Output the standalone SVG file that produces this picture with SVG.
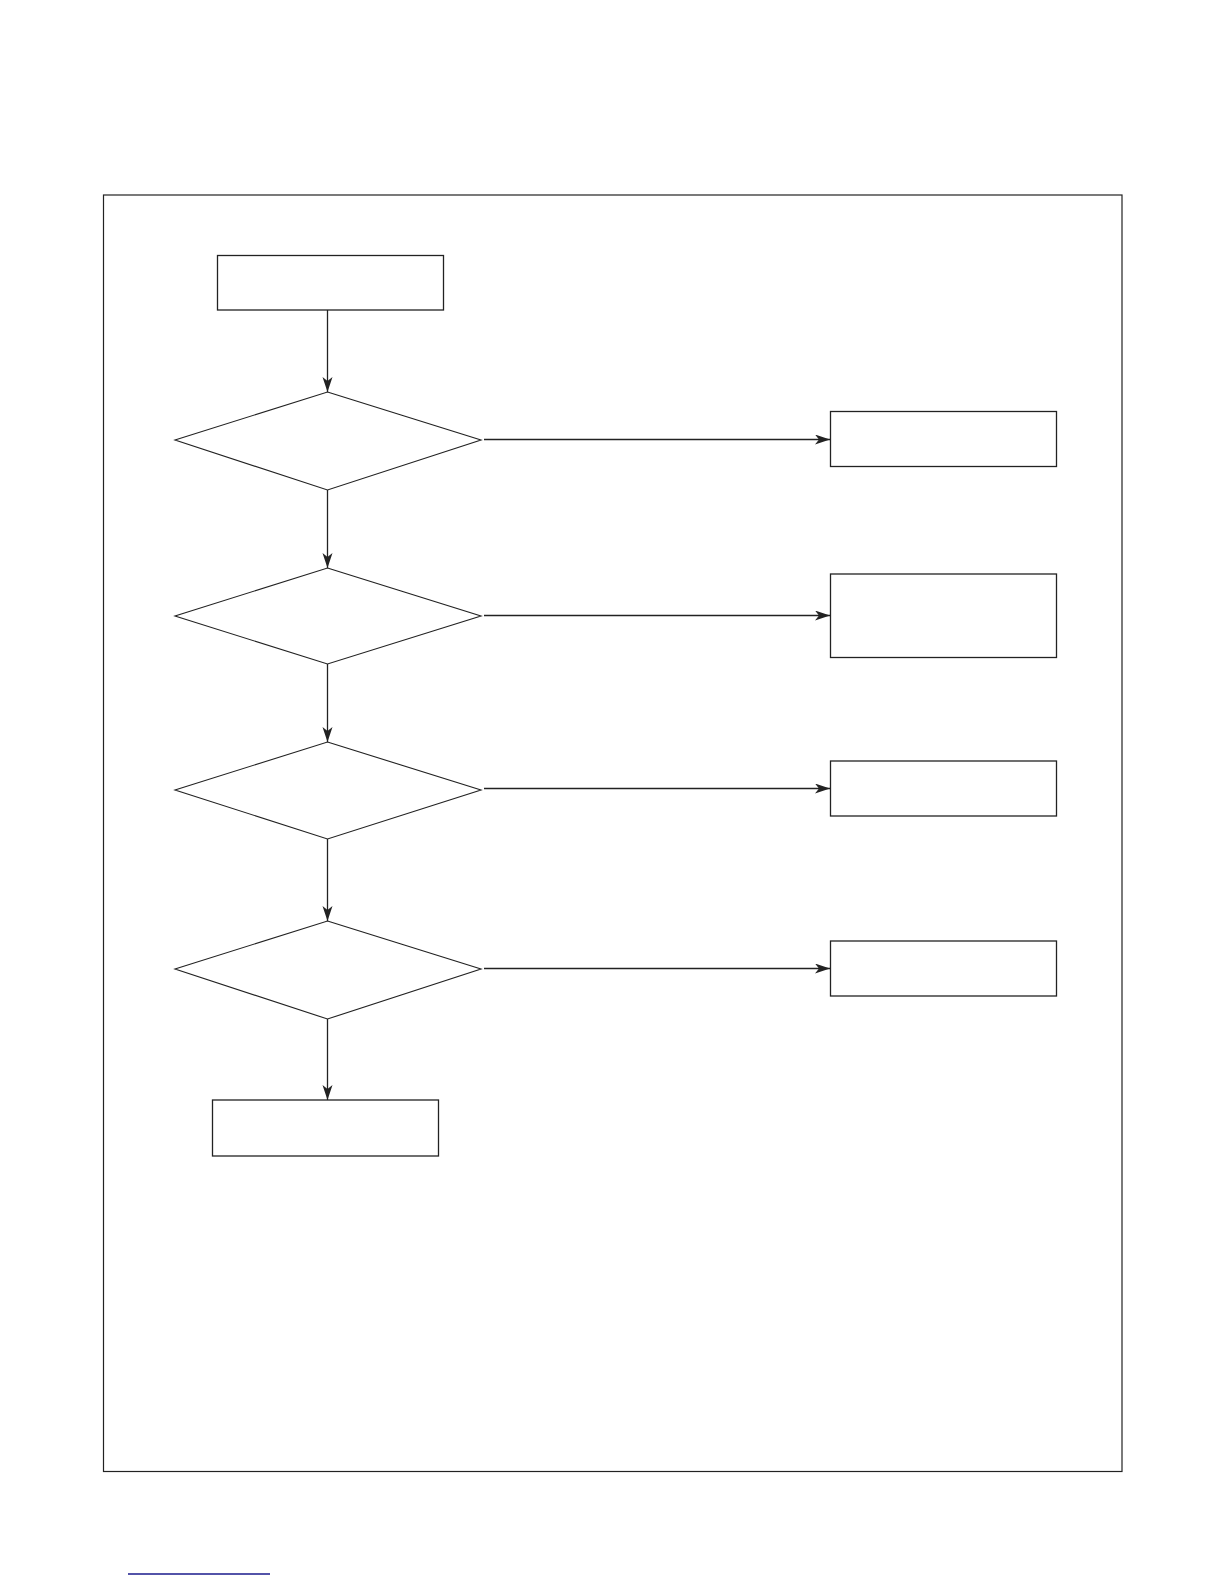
<svg xmlns="http://www.w3.org/2000/svg" width="1224" height="1584" viewBox="0 0 1224 1584">
  <style>
    .box { fill: #fff; stroke: #222; stroke-width: 1.3; }
    .dia { fill: #fff; stroke: #222; stroke-width: 1.1; }
    .edge { fill: none; stroke: #222; stroke-width: 1.3; marker-end: url(#arr); }
    .frame { fill: none; stroke: #222; stroke-width: 1.2; }
  </style>
  <defs>
    <marker id="arr" markerUnits="userSpaceOnUse" markerWidth="16" markerHeight="12" refX="15" refY="5" orient="auto">
      <path d="M0,0 L15,5 L0,10 L4,5 z" fill="#222"/>
    </marker>
  </defs>
  <rect width="1224" height="1584" fill="#fff"/>
  <rect class="frame" x="103.5" y="195" width="1018.5" height="1276.5"/>

  <g id="connectors">
    <line class="edge" x1="327.5" y1="310" x2="327.5" y2="392"/>
    <line class="edge" x1="327.5" y1="490" x2="327.5" y2="568"/>
    <line class="edge" x1="327.5" y1="664" x2="327.5" y2="742"/>
    <line class="edge" x1="327.5" y1="839" x2="327.5" y2="921"/>
    <line class="edge" x1="327.5" y1="1019" x2="327.5" y2="1100"/>
    <line class="edge" x1="484" y1="439.5" x2="830" y2="439.5"/>
    <line class="edge" x1="484" y1="615.5" x2="830" y2="615.5"/>
    <line class="edge" x1="484" y1="788.5" x2="830" y2="788.5"/>
    <line class="edge" x1="484" y1="968.5" x2="830" y2="968.5"/>
  </g>

  <g id="start"><rect class="box" x="217.5" y="255.5" width="226" height="54.5"/></g>
  <g id="decision1"><polygon class="dia" points="327.5,392 481,440 327.5,490 175,440"/></g>
  <g id="decision2"><polygon class="dia" points="327.5,568 481,616 327.5,664 175,616"/></g>
  <g id="decision3"><polygon class="dia" points="327.5,742 481,790 327.5,839 175,790"/></g>
  <g id="decision4"><polygon class="dia" points="327.5,921 481,969 327.5,1019 175,969"/></g>
  <g id="end"><rect class="box" x="212.5" y="1100" width="226" height="56"/></g>
  <g id="result1"><rect class="box" x="830.5" y="411.5" width="226" height="55"/></g>
  <g id="result2"><rect class="box" x="830.5" y="574" width="226" height="83.5"/></g>
  <g id="result3"><rect class="box" x="830.5" y="761" width="226" height="55"/></g>
  <g id="result4"><rect class="box" x="830.5" y="941" width="226" height="55"/></g>

  <line x1="128" y1="1574" x2="270" y2="1574" stroke="#1a1a8c" stroke-width="1.5"/>
</svg>
